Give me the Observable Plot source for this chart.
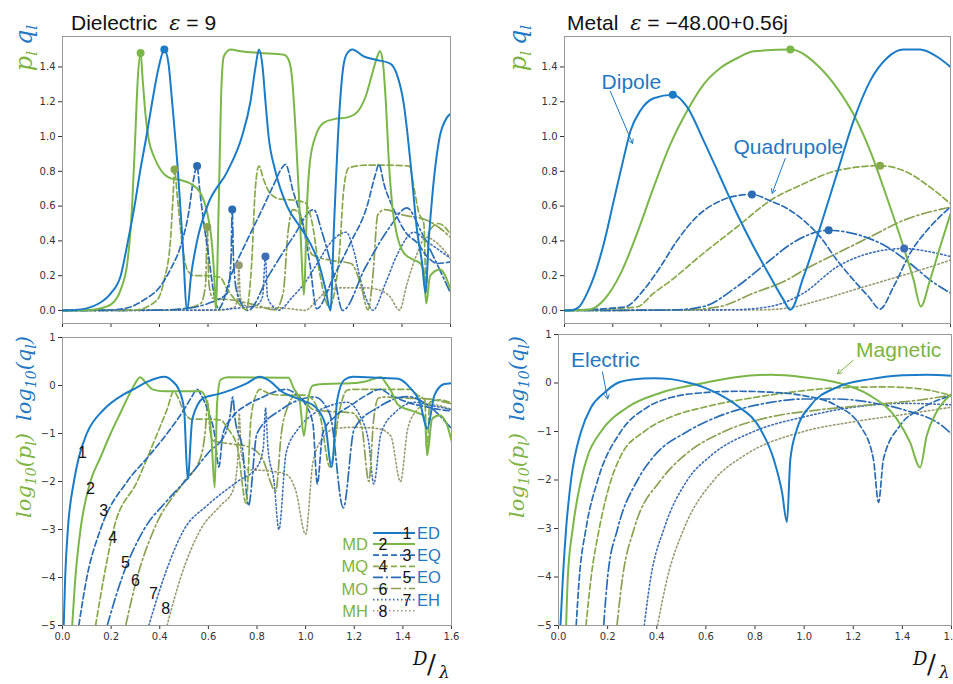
<!DOCTYPE html>
<html><head><meta charset="utf-8">
<script src="https://cdn.jsdelivr.net/npm/d3@7"></script>
<script src="https://cdn.jsdelivr.net/npm/@observablehq/plot@0.6"></script>
<style>
html,body{margin:0;padding:0;background:#fff;}
#wrap{position:relative;width:953px;height:684px;overflow:hidden;background:#fff;}
</style></head><body><div id="wrap"></div>
<script>
// ---------- Dielectric (eps = 9), linear p_l / q_l ----------
const dED = [[0,0],[0.05,0.002],[0.1,0.012],[0.15,0.04],[0.2,0.1],[0.24,0.2],[0.27,0.4],[0.297,0.6],[0.32,0.8],[0.346,1.0],[0.37,1.2],[0.397,1.4],[0.42,1.5],[0.437,1.42],[0.452,1.2],[0.476,0.8],[0.495,0.4],[0.514,0.0],[0.53,0.2],[0.555,0.4],[0.597,0.6],[0.68,0.8],[0.74,1.0],[0.775,1.2],[0.796,1.4],[0.81,1.5],[0.825,1.4],[0.837,1.2],[0.85,1.0],[0.878,0.8],[0.926,0.6],[0.98,0.48],[1.02,0.39],[1.057,0.27],[1.085,0.12],[1.105,0.0],[1.12,0.5],[1.14,1.1],[1.16,1.42],[1.175,1.48],[1.195,1.5],[1.243,1.46],[1.297,1.44],[1.35,1.42],[1.378,1.36],[1.407,1.19],[1.435,0.85],[1.462,0.46],[1.483,0.27],[1.497,0.1],[1.51,0.4],[1.525,0.66],[1.553,0.98],[1.586,1.11],[1.6,1.13]];
const dMD = [[0,0],[0.1,0.002],[0.15,0.01],[0.2,0.035],[0.24,0.12],[0.267,0.27],[0.287,0.6],[0.3,1.0],[0.31,1.32],[0.322,1.48],[0.331,1.32],[0.342,1.13],[0.356,0.98],[0.377,0.885],[0.404,0.81],[0.445,0.76],[0.487,0.75],[0.527,0.73],[0.569,0.675],[0.597,0.56],[0.617,0.37],[0.627,0.16],[0.632,0.01],[0.645,0.66],[0.654,1.23],[0.665,1.46],[0.693,1.5],[0.734,1.49],[0.816,1.48],[0.913,1.47],[0.933,1.44],[0.947,1.33],[0.961,1.04],[0.975,0.66],[0.984,0.37],[0.995,0.09],[1.01,0.66],[1.02,0.85],[1.043,1.0],[1.078,1.08],[1.12,1.1],[1.175,1.11],[1.215,1.14],[1.25,1.23],[1.277,1.36],[1.298,1.46],[1.309,1.49],[1.32,1.44],[1.332,1.23],[1.346,0.85],[1.36,0.6],[1.38,0.43],[1.408,0.33],[1.449,0.29],[1.476,0.27],[1.49,0.22],[1.5,0.04],[1.516,0.2],[1.557,0.235],[1.6,0.12]];
const dEQ = [[0,0],[0.2,0.003],[0.28,0.02],[0.335,0.06],[0.404,0.14],[0.445,0.235],[0.487,0.37],[0.52,0.56],[0.54,0.75],[0.555,0.83],[0.566,0.69],[0.583,0.5],[0.603,0.31],[0.624,0.1],[0.643,0.01],[0.7,0.22],[0.76,0.4],[0.816,0.56],[0.87,0.72],[0.905,0.82],[0.92,0.84],[0.95,0.69],[0.99,0.5],[1.02,0.27],[1.048,0.01],[1.12,0.2],[1.188,0.39],[1.256,0.6],[1.29,0.78],[1.305,0.84],[1.325,0.73],[1.366,0.58],[1.42,0.44],[1.462,0.39],[1.504,0.31],[1.545,0.27],[1.6,0.28]];
const dMQ = [[0,0],[0.3,0.003],[0.39,0.06],[0.42,0.18],[0.445,0.4],[0.456,0.66],[0.462,0.81],[0.473,0.66],[0.493,0.39],[0.514,0.235],[0.542,0.2],[0.6,0.2],[0.65,0.19],[0.68,0.12],[0.72,0.05],[0.757,0.004],[0.78,0.27],[0.795,0.7],[0.81,0.83],[0.83,0.75],[0.858,0.67],[0.9,0.64],[0.95,0.635],[1.0,0.62],[1.03,0.5],[1.06,0.22],[1.1,0.02],[1.14,0.3],[1.16,0.7],[1.18,0.82],[1.25,0.835],[1.35,0.835],[1.43,0.83],[1.45,0.7],[1.47,0.56],[1.49,0.5],[1.5,0.1],[1.51,0.45],[1.55,0.5],[1.6,0.44]];
const dEO = [[0,0],[0.4,0.002],[0.5,0.01],[0.6,0.04],[0.68,0.1],[0.695,0.3],[0.7,0.58],[0.705,0.3],[0.72,0.1],[0.765,0.0],[0.85,0.2],[0.95,0.42],[1.036,0.58],[1.07,0.45],[1.12,0.2],[1.155,0.0],[1.25,0.25],[1.35,0.48],[1.42,0.59],[1.48,0.45],[1.55,0.25],[1.6,0.1]];
const dMO = [[0,0],[0.4,0.002],[0.5,0.01],[0.57,0.04],[0.59,0.15],[0.597,0.48],[0.604,0.15],[0.62,0.07],[0.7,0.06],[0.8,0.03],[0.877,0.003],[0.91,0.1],[0.93,0.45],[0.95,0.58],[0.98,0.55],[1.0,0.45],[1.03,0.32],[1.1,0.29],[1.19,0.27],[1.23,0.15],[1.26,0.003],[1.28,0.2],[1.3,0.55],[1.33,0.58],[1.4,0.55],[1.5,0.52],[1.55,0.48],[1.6,0.42]];
const dEH = [[0,0],[0.6,0.002],[0.7,0.01],[0.8,0.03],[0.825,0.08],[0.837,0.31],[0.845,0.08],[0.87,0.02],[0.89,0.001],[0.95,0.08],[1.0,0.16],[1.05,0.27],[1.1,0.38],[1.17,0.45],[1.2,0.35],[1.23,0.17],[1.26,0.04],[1.28,0.001],[1.33,0.15],[1.38,0.32],[1.45,0.45],[1.5,0.4],[1.55,0.35],[1.6,0.3]];
const dMH = [[0,0],[0.65,0.002],[0.71,0.02],[0.722,0.08],[0.727,0.26],[0.733,0.08],[0.75,0.03],[0.8,0.017],[0.9,0.015],[0.95,0.008],[1.0,0.0005],[1.05,0.06],[1.1,0.12],[1.15,0.13],[1.25,0.13],[1.3,0.12],[1.35,0.08],[1.39,0.002],[1.42,0.15],[1.46,0.32],[1.5,0.42],[1.55,0.38],[1.6,0.3]];

// ---------- Dielectric, log10 ----------
const lED = [[0.005,-5],[0.011,-4],[0.022,-3],[0.047,-2],[0.067,-1.5],[0.1,-1],[0.17,-0.5],[0.25,-0.19],[0.3,-0.06],[0.35,0.08],[0.42,0.18],[0.45,0.1],[0.48,-0.1],[0.5,-0.5],[0.515,-1.95],[0.534,-0.7],[0.58,-0.26],[0.64,-0.18],[0.7,-0.08],[0.76,0.05],[0.81,0.18],[0.85,0.1],[0.9,-0.12],[0.98,-0.3],[1.04,-0.45],[1.08,-0.8],[1.107,-1.7],[1.13,-0.3],[1.16,0.12],[1.195,0.18],[1.3,0.16],[1.38,0.14],[1.43,-0.05],[1.47,-0.35],[1.5,-0.9],[1.53,-0.2],[1.57,0.03],[1.6,0.05]];
const lMD = [[0.04,-5],[0.053,-4],[0.074,-3],[0.115,-2],[0.156,-1.5],[0.198,-1],[0.245,-0.5],[0.273,-0.2],[0.294,0],[0.32,0.17],[0.342,0.06],[0.37,-0.08],[0.42,-0.12],[0.568,-0.12],[0.595,-0.36],[0.612,-1.05],[0.626,-2.13],[0.636,-0.36],[0.65,0.12],[0.68,0.17],[0.93,0.16],[0.95,-0.05],[0.975,-0.3],[0.993,-1.05],[1.01,-0.3],[1.03,0],[1.08,0.03],[1.2,0.05],[1.25,0.09],[1.31,0.17],[1.33,0.05],[1.35,-0.1],[1.38,-0.4],[1.45,-0.55],[1.49,-0.65],[1.5,-1.45],[1.52,-0.7],[1.55,-0.62],[1.58,-0.8],[1.6,-1.15]];
const lEQ = [[0.067,-5],[0.1,-4],[0.156,-3],[0.266,-2],[0.35,-1.5],[0.43,-1],[0.5,-0.5],[0.53,-0.25],[0.554,-0.08],[0.57,-0.2],[0.6,-0.55],[0.625,-1.0],[0.643,-1.7],[0.66,-1.0],[0.7,-0.65],[0.76,-0.4],[0.82,-0.25],[0.88,-0.12],[0.92,-0.08],[0.96,-0.18],[1.0,-0.4],[1.03,-0.8],[1.048,-2.05],[1.07,-1.0],[1.12,-0.65],[1.19,-0.4],[1.25,-0.2],[1.305,-0.08],[1.35,-0.2],[1.42,-0.35],[1.5,-0.45],[1.55,-0.5],[1.6,-0.53]];
const lMQ = [[0.136,-5],[0.17,-4],[0.21,-3],[0.307,-2],[0.39,-1],[0.43,-0.5],[0.458,-0.12],[0.475,-0.25],[0.5,-0.55],[0.53,-0.7],[0.6,-0.7],[0.65,-0.72],[0.68,-0.9],[0.72,-1.3],[0.755,-2.45],[0.775,-0.7],[0.8,-0.15],[0.81,-0.08],[0.85,-0.17],[0.9,-0.2],[1.0,-0.2],[1.03,-0.3],[1.06,-0.65],[1.1,-1.7],[1.14,-0.5],[1.17,-0.1],[1.2,-0.08],[1.43,-0.08],[1.46,-0.2],[1.49,-0.3],[1.5,-1.45],[1.51,-0.35],[1.55,-0.3],[1.6,-0.36]];
const lEO = [[0.184,-5],[0.245,-4],[0.335,-3],[0.43,-2.4],[0.51,-1.96],[0.6,-1.4],[0.67,-1.0],[0.69,-0.6],[0.7,-0.24],[0.71,-0.7],[0.74,-1.3],[0.765,-2.5],[0.8,-1.0],[0.9,-0.5],[1.036,-0.24],[1.1,-0.6],[1.155,-2.55],[1.2,-0.9],[1.3,-0.45],[1.42,-0.23],[1.5,-0.4],[1.6,-0.9]];
const lMO = [[0.26,-5],[0.307,-4],[0.376,-3],[0.5,-2],[0.568,-1.5],[0.588,-0.9],[0.597,-0.32],[0.606,-0.9],[0.62,-1.15],[0.7,-1.22],[0.76,-1.27],[0.82,-1.5],[0.877,-2.2],[0.9,-1.0],[0.93,-0.4],[0.95,-0.24],[0.98,-0.26],[1.0,-0.35],[1.03,-0.5],[1.1,-0.54],[1.19,-0.57],[1.23,-0.85],[1.26,-2.0],[1.28,-0.7],[1.3,-0.26],[1.33,-0.24],[1.4,-0.26],[1.5,-0.28],[1.55,-0.32],[1.6,-0.38]];
const lEH = [[0.355,-5],[0.417,-4],[0.5,-3],[0.595,-2.5],[0.72,-2],[0.8,-1.7],[0.826,-1.3],[0.835,-0.47],[0.845,-1.3],[0.87,-2.0],[0.89,-3.0],[0.92,-1.4],[0.97,-0.9],[1.03,-0.6],[1.1,-0.42],[1.17,-0.35],[1.22,-0.6],[1.26,-1.2],[1.28,-2.05],[1.31,-1.0],[1.37,-0.55],[1.45,-0.35],[1.52,-0.42],[1.6,-0.5]];
const lMH = [[0.43,-5],[0.486,-4],[0.568,-3],[0.65,-2.5],[0.7,-2.2],[0.72,-1.6],[0.727,-0.58],[0.735,-1.4],[0.76,-1.75],[0.85,-1.78],[0.92,-1.85],[0.96,-2.2],[1.0,-3.1],[1.03,-1.6],[1.07,-1.1],[1.12,-0.9],[1.2,-0.87],[1.3,-0.9],[1.35,-1.05],[1.39,-2.0],[1.42,-0.9],[1.46,-0.5],[1.5,-0.38],[1.55,-0.42],[1.6,-0.5]];

// ---------- Metal (eps = -48.00+0.56j), linear ----------
const mED = [[0,0],[0.03,0.001],[0.06,0.02],[0.094,0.1],[0.121,0.19],[0.163,0.385],[0.204,0.63],[0.246,0.88],[0.273,1.03],[0.315,1.15],[0.37,1.22],[0.449,1.24],[0.508,1.17],[0.577,0.975],[0.646,0.766],[0.715,0.556],[0.784,0.366],[0.853,0.194],[0.908,0.061],[0.936,0.004],[0.991,0.194],[1.06,0.48],[1.129,0.785],[1.198,1.09],[1.267,1.32],[1.336,1.45],[1.405,1.5],[1.474,1.5],[1.543,1.46],[1.6,1.4]];
const mMD = [[0,0],[0.094,0.004],[0.121,0.013],[0.163,0.06],[0.232,0.21],[0.3,0.44],[0.37,0.71],[0.439,0.956],[0.508,1.147],[0.577,1.3],[0.646,1.394],[0.715,1.45],[0.784,1.49],[0.936,1.5],[1.06,1.394],[1.129,1.28],[1.198,1.128],[1.267,0.918],[1.336,0.651],[1.405,0.366],[1.447,0.175],[1.477,0.023],[1.515,0.175],[1.557,0.366],[1.6,0.556]];
const mEQ = [[0,0],[0.25,0.02],[0.328,0.118],[0.397,0.25],[0.466,0.4],[0.549,0.54],[0.646,0.63],[0.715,0.66],[0.777,0.667],[0.853,0.63],[0.936,0.575],[0.991,0.518],[1.06,0.423],[1.129,0.29],[1.198,0.175],[1.26,0.08],[1.308,0.008],[1.364,0.137],[1.433,0.33],[1.515,0.48],[1.6,0.594]];
const mMQ = [[0,0],[0.3,0.02],[0.37,0.1],[0.439,0.17],[0.577,0.33],[0.715,0.48],[0.853,0.632],[0.991,0.728],[1.129,0.804],[1.308,0.832],[1.405,0.804],[1.515,0.709],[1.6,0.613]];
const mEO = [[0,0],[0.45,0.003],[0.577,0.023],[0.715,0.137],[0.853,0.29],[0.922,0.366],[0.991,0.423],[1.095,0.461],[1.198,0.442],[1.336,0.366],[1.433,0.27],[1.515,0.175],[1.6,0.1]];
const mMO = [[0,0],[0.5,0.003],[0.646,0.023],[0.784,0.1],[0.922,0.175],[0.991,0.232],[1.129,0.328],[1.267,0.423],[1.405,0.518],[1.6,0.594]];
const mEH = [[0,0],[0.7,0.004],[0.853,0.023],[0.991,0.1],[1.129,0.25],[1.267,0.33],[1.408,0.356],[1.515,0.337],[1.6,0.31]];
const mMH = [[0,0],[0.8,0.003],[0.922,0.013],[1.06,0.06],[1.198,0.118],[1.336,0.175],[1.474,0.232],[1.6,0.29]];

// ---------- Metal, log10 ----------
const nED = [[0.008,-5],[0.018,-4],[0.031,-3],[0.051,-2],[0.092,-1],[0.133,-0.5],[0.187,-0.2],[0.24,0],[0.3,0.07],[0.39,0.1],[0.46,0.08],[0.525,0.01],[0.592,-0.09],[0.66,-0.25],[0.728,-0.47],[0.822,-0.95],[0.876,-1.57],[0.91,-2.25],[0.93,-2.87],[0.944,-1.57],[0.971,-0.95],[1.025,-0.47],[1.133,-0.09],[1.269,0.08],[1.404,0.16],[1.5,0.17],[1.6,0.15]];
const nMD = [[0.031,-5],[0.038,-4],[0.058,-3],[0.092,-2],[0.119,-1.5],[0.173,-1],[0.281,-0.5],[0.417,-0.2],[0.592,0],[0.72,0.12],[0.863,0.17],[0.998,0.12],[1.133,0.01],[1.269,-0.26],[1.377,-0.74],[1.431,-1.22],[1.472,-1.74],[1.499,-1.09],[1.539,-0.6],[1.6,-0.23]];
const nEQ = [[0.072,-5],[0.085,-4],[0.112,-3],[0.16,-2],[0.254,-1],[0.362,-0.5],[0.457,-0.3],[0.592,-0.2],[0.728,-0.17],[0.863,-0.19],[0.998,-0.26],[1.133,-0.47],[1.228,-0.88],[1.282,-1.57],[1.303,-2.46],[1.323,-1.57],[1.39,-0.88],[1.472,-0.54],[1.6,-0.26]];
const nMQ = [[0.112,-5],[0.133,-4],[0.166,-3],[0.214,-2],[0.254,-1.5],[0.349,-1],[0.457,-0.7],[0.592,-0.5],[0.795,-0.3],[0.93,-0.2],[1.133,-0.1],[1.336,-0.08],[1.472,-0.12],[1.6,-0.26]];
const nEO = [[0.184,-5],[0.2,-4],[0.241,-3],[0.322,-2],[0.39,-1.5],[0.525,-1],[0.7,-0.6],[0.863,-0.4],[0.998,-0.33],[1.133,-0.33],[1.269,-0.4],[1.404,-0.55],[1.566,-0.9],[1.6,-1.05]];
const nMO = [[0.238,-5],[0.261,-4],[0.308,-3],[0.417,-2],[0.511,-1.5],[0.674,-1],[0.863,-0.7],[1.066,-0.55],[1.269,-0.45],[1.472,-0.35],[1.6,-0.25]];
const nEH = [[0.349,-5],[0.376,-4],[0.43,-3],[0.525,-2],[0.62,-1.5],[0.795,-1],[0.998,-0.7],[1.201,-0.5],[1.404,-0.42],[1.6,-0.45]];
const nMH = [[0.403,-5],[0.444,-4],[0.511,-3],[0.633,-2],[0.755,-1.5],[0.998,-1],[1.201,-0.8],[1.404,-0.65],[1.6,-0.5]];

// ---------- Resonance markers ----------
const diePeaks = [["MD",0.322,1.48],["ED",0.42,1.5],["MQ",0.462,0.81],["EQ",0.555,0.83],["MO",0.597,0.48],["EO",0.7,0.58],["MH",0.727,0.26],["EH",0.837,0.31]];
const metPeaks = [["ED",0.449,1.24],["EQ",0.777,0.667],["MD",0.936,1.5],["EO",1.095,0.461],["MQ",1.308,0.832],["EH",1.408,0.356]];

// ---------- Labels ----------
const curveNumbers = [["1",0.082,-1.41],["2",0.115,-2.16],["3",0.169,-2.61],["4",0.206,-3.17],["5",0.259,-3.69],["6",0.30,-4.07],["7",0.374,-4.34],["8",0.424,-4.65]];
const legendRows = [["ED","1","E"],["MD","2","M"],["EQ","3","E"],["MQ","4","M"],["EO","5","E"],["MO","6","M"],["EH","7","E"],["MH","8","M"]];
const metTopNotes = [{t:"Dipole",x:0.277,y:1.31},{t:"Quadrupole",x:0.928,y:0.937}];
const metTopArrows = [{x1:0.19,y1:1.26,x2:0.282,y2:0.96},{x1:0.915,y1:0.874,x2:0.861,y2:0.674}];
const metLogNotes = [{t:"Electric",x:0.191,y:0.47,c:"E"},{t:"Magnetic",x:1.385,y:0.68,c:"M"}];
const metLogArrows = [{x1:0.179,y1:0.23,x2:0.2,y2:-0.33,c:"E"},{x1:1.2,y1:0.47,x2:1.136,y2:0.19,c:"M"}];

const BLUE_T = "#1f78c1", GREEN_T = "#7cb342";
const styles = {
  ED:{color:"#1a7bc7",dash:null,w:2},
  MD:{color:"#7ab648",dash:null,w:2},
  EQ:{color:"#2a6cb3",dash:"6,3",w:1.7},
  MQ:{color:"#86a94a",dash:"6,3",w:1.7},
  EO:{color:"#2a6cb3",dash:"10,3,2,3",w:1.7},
  MO:{color:"#8aa052",dash:"10,3,2,3",w:1.7},
  EH:{color:"#3c6db5",dash:"1.5,2.5",w:1.6},
  MH:{color:"#9a9a72",dash:"1.5,2.5",w:1.6}
};
const drawOrder = ["MH","EH","MO","EO","MQ","EQ","MD","ED"];

const fmt1 = d => d.toFixed(1);
const fmtLog = d => d < 0 ? "\u2212" + (-d) : String(d);

function panel(o){
  const marks = [Plot.frame({stroke:"#999", strokeWidth:1})];
  for (const k of drawOrder){
    const s = styles[k];
    const rows = o.series[k].map(([x,y]) => ({x, y}));
    const opts = {x:"x", y:"y", stroke:s.color, strokeWidth:s.w, curve:"monotone-x", clip:true};
    if (s.dash) opts.strokeDasharray = s.dash;
    marks.push(Plot.line(rows, opts));
  }
  if (o.peaks){
    marks.push(Plot.dot(o.peaks, {x:d=>d[1], y:d=>d[2], r:4, fill:d=>styles[d[0]].color, stroke:"none"}));
  }
  if (o.extra) marks.push(...o.extra);
  const svg = Plot.plot({
    width:o.width, height:o.height,
    marginLeft:o.ml, marginRight:o.mr, marginTop:o.mt, marginBottom:o.mb,
    x:{domain:[0,1.6], ticks:8, tickSize:4, tickPadding:3, tickFormat:o.xLabels ? fmt1 : () => "", label:null},
    y:{domain:o.yDomain, ticks:o.yTicks, tickSize:4, tickPadding:3, tickFormat:o.yFmt, label:null},
    style:{fontFamily:"DejaVu Sans, sans-serif", fontSize:"10px", color:"#333", background:"transparent", overflow:"visible"},
    marks
  });
  svg.style.position = "absolute";
  svg.style.left = o.left + "px";
  svg.style.top = o.top + "px";
  document.getElementById("wrap").appendChild(svg);
}

const annFont = "Liberation Sans, Arial, sans-serif";

panel({left:0, top:0, width:460, height:340, ml:62, mr:10, mt:36, mb:17,
  series:{ED:dED,MD:dMD,EQ:dEQ,MQ:dMQ,EO:dEO,MO:dMO,EH:dEH,MH:dMH},
  yDomain:[-0.075,1.575], yTicks:8, yFmt:fmt1, xLabels:false, peaks:diePeaks});

panel({left:500, top:0, width:460, height:340, ml:64, mr:10, mt:36, mb:17,
  series:{ED:mED,MD:mMD,EQ:mEQ,MQ:mMQ,EO:mEO,MO:mMO,EH:mEH,MH:mMH},
  yDomain:[-0.075,1.575], yTicks:8, yFmt:fmt1, xLabels:false, peaks:metPeaks,
  extra:[
    Plot.text(metTopNotes, {x:"x", y:"y", text:"t", fill:BLUE_T, fontSize:21, fontFamily:annFont}),
    Plot.arrow(metTopArrows, {x1:"x1", y1:"y1", x2:"x2", y2:"y2", stroke:BLUE_T, strokeWidth:1, headLength:7})
  ]});

panel({left:0, top:330, width:460, height:340, ml:62, mr:9, mt:7, mb:45,
  series:{ED:lED,MD:lMD,EQ:lEQ,MQ:lMQ,EO:lEO,MO:lMO,EH:lEH,MH:lMH},
  yDomain:[-5,1], yTicks:6, yFmt:fmtLog, xLabels:true,
  extra:[
    Plot.text(curveNumbers, {x:d=>d[1], y:d=>d[2], text:d=>d[0], fill:"#111", fontSize:16, fontFamily:annFont})
  ]});

panel({left:500, top:327, width:460, height:340, ml:58, mr:9, mt:7, mb:42,
  series:{ED:nED,MD:nMD,EQ:nEQ,MQ:nMQ,EO:nEO,MO:nMO,EH:nEH,MH:nMH},
  yDomain:[-5,1], yTicks:6, yFmt:fmtLog, xLabels:true,
  extra:[
    Plot.text(metLogNotes, {x:"x", y:"y", text:"t", fill:d=>d.c==="E"?BLUE_T:GREEN_T, fontSize:21, fontFamily:annFont}),
    Plot.arrow(metLogArrows, {x1:"x1", y1:"y1", x2:"x2", y2:"y2", stroke:d=>d.c==="E"?BLUE_T:GREEN_T, strokeWidth:1, headLength:7})
  ]});

// ---------- Overlay texts ----------
const ov = d3.select("#wrap").append("svg")
  .attr("width",953).attr("height",684)
  .style("position","absolute").style("left","0px").style("top","0px");

function title(x, y, before, after){
  const t = ov.append("text").attr("x",x).attr("y",y)
    .attr("font-family",annFont).attr("font-size",21).attr("fill","#111");
  t.append("tspan").text(before);
  t.append("tspan").attr("dx",6).attr("font-family","DejaVu Serif, serif").attr("font-style","italic").text("\u03b5");
  t.append("tspan").text(after);
}
title(71, 30, "Dielectric ", " = 9");
title(567, 30, "Metal  ", " = \u221248.00+0.56j");

function ylabel(cx, cy, parts, size, subSize){
  const t = ov.append("text")
    .attr("transform", `translate(${cx},${cy}) rotate(-90)`)
    .attr("text-anchor","middle")
    .attr("font-family","DejaVu Serif, serif").attr("font-style","italic").attr("font-size",size);
  for (const p of parts){
    const ts = t.append("tspan").attr("fill", p.c).text(p.s);
    if (p.sub){ ts.attr("font-size",subSize).attr("dy",5); }
    if (p.up){ ts.attr("dy",-5); }
    if (p.dx) ts.attr("dx", p.dx);
  }
}
const topParts = [
  {s:"p",c:GREEN_T},{s:"l",c:GREEN_T,sub:true},
  {s:"q",c:BLUE_T,up:true,dx:6},{s:"l",c:BLUE_T,sub:true}
];
ylabel(32, 48, topParts, 24, 15);
ylabel(526, 48, topParts, 24, 15);
const logParts = [
  {s:"log",c:GREEN_T},{s:"10",c:GREEN_T,sub:true},{s:"(p",c:GREEN_T,up:true},{s:"l",c:GREEN_T,sub:true},{s:")",c:GREEN_T,up:true},
  {s:"log",c:BLUE_T,dx:12},{s:"10",c:BLUE_T,sub:true},{s:"(q",c:BLUE_T,up:true},{s:"l",c:BLUE_T,sub:true},{s:")",c:BLUE_T,up:true}
];
ylabel(31, 427, logParts, 21, 14);
ylabel(524, 427, logParts, 21, 14);

function dlambda(x){
  const g = ov.append("g").attr("font-family","DejaVu Serif, serif").attr("fill","#111");
  g.append("text").attr("x",x).attr("y",665).attr("font-style","italic").attr("font-size",18).text("D");
  g.append("text").attr("x",x+14).attr("y",673).attr("font-size",26).text("/");
  g.append("text").attr("x",x+26).attr("y",678).attr("font-style","italic").attr("font-size",17).text("\u03bb");
}
dlambda(413);
dlambda(913);

// ---------- Legend (bottom-left panel) ----------
const lg = ov.append("g").attr("font-family",annFont);
legendRows.forEach(([key,num,kind],i) => {
  const y = 533 + i*11.1;
  const s = styles[key];
  const ln = lg.append("line").attr("x1",373).attr("x2",415).attr("y1",y).attr("y2",y)
    .attr("stroke",s.color).attr("stroke-width",s.w);
  if (s.dash) ln.attr("stroke-dasharray", s.dash);
  if (kind === "E"){
    lg.append("text").attr("x",407).attr("y",y+6).attr("text-anchor","middle").attr("font-size",16).attr("fill","#111").text(num);
    lg.append("text").attr("x",417).attr("y",y+6).attr("font-size",16.5).attr("fill",BLUE_T).text(key);
  } else {
    lg.append("text").attr("x",383).attr("y",y+6).attr("text-anchor","middle").attr("font-size",16).attr("fill","#111").text(num);
    lg.append("text").attr("x",368).attr("y",y+6).attr("text-anchor","end").attr("font-size",16.5).attr("fill",GREEN_T).text(key);
  }
});
</script></body></html>
